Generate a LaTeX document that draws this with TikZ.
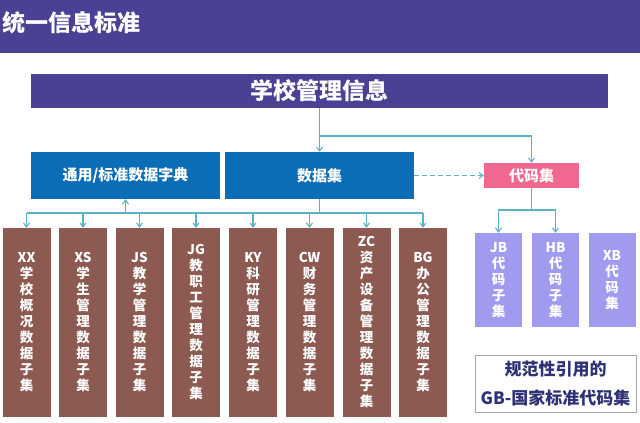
\documentclass[tikz,border=0pt]{standalone}
\usepackage{fontspec}
\setmainfont{Noto Sans CJK SC}
\usetikzlibrary{arrows.meta}

\definecolor{barpurple}{HTML}{4A4094}
\definecolor{dictblue}{HTML}{0B6DB5}
\definecolor{codepink}{HTML}{F0688F}
\definecolor{subbrown}{HTML}{8C5A51}
\definecolor{sublilac}{HTML}{A19BF0}
\definecolor{linkteal}{HTML}{5AB3C3}
\definecolor{notenavy}{HTML}{2E3275}

\begin{document}
\begin{tikzpicture}[x=1pt, y=-1pt, every node/.style={inner sep=0pt, text=white},
	bluebox/.style={fill=dictblue, minimum width=189pt, minimum height=47pt, font=\bfseries\fontsize{15}{18}\selectfont},
	setbox/.style={fill=subbrown, minimum width=48pt, minimum height=189pt, align=center, font=\bfseries\fontsize{13.5}{16}\selectfont},
	codebox/.style={fill=sublilac, minimum width=47pt, minimum height=94pt, align=center, font=\bfseries\fontsize{13.5}{16}\selectfont},
	wire/.style={draw=linkteal, line width=1.1pt},
	link/.style={wire, -{Straight Barb[length=4pt, width=6pt]}}]
	\useasboundingbox (0,0) rectangle (640,423);
	% title bar
	\fill[barpurple] (0,0) rectangle (640,53);
	\node[anchor=west, font=\bfseries\fontsize{23}{26}\selectfont] (title) at (2,23) {统一信息标准};
	% top level
	\node[fill=barpurple, minimum width=577pt, minimum height=34pt, font=\bfseries\fontsize{23}{26}\selectfont] (school) at (319.5,91) {学校管理信息};
	\node[bluebox] (dict) at (125.5,175.5) {通用/标准数据字典};
	\node[bluebox] (dataset) at (319.5,175.5) {数据集};
	\node[fill=codepink, minimum width=95pt, minimum height=25pt, font=\bfseries\fontsize{15}{18}\selectfont] (codes) at (531.5,175.5) {代码集};
	% data subsets
	\node[setbox] (xx) at (26.5,322.5) {XX\\学\\校\\概\\况\\数\\据\\子\\集};
	\node[setbox] (xs) at (83,322.5) {XS\\学\\生\\管\\理\\数\\据\\子\\集};
	\node[setbox] (js) at (139.5,322.5) {JS\\教\\学\\管\\理\\数\\据\\子\\集};
	\node[setbox] (jg) at (196,322.5) {JG\\教\\职\\工\\管\\理\\数\\据\\子\\集};
	\node[setbox] (ky) at (253,322.5) {KY\\科\\研\\管\\理\\数\\据\\子\\集};
	\node[setbox] (cw) at (309.5,322.5) {CW\\财\\务\\管\\理\\数\\据\\子\\集};
	\node[setbox] (zc) at (366.5,322.5) {ZC\\资\\产\\设\\备\\管\\理\\数\\据\\子\\集};
	\node[setbox] (bg) at (423,322.5) {BG\\办\\公\\管\\理\\数\\据\\子\\集};
	% code subsets
	\node[codebox] (jb) at (498.5,280) {JB\\代\\码\\子\\集};
	\node[codebox] (hb) at (555.5,280) {HB\\代\\码\\子\\集};
	\node[codebox] (xb) at (612,280) {XB\\代\\码\\集};
	% note
	\node[draw=gray!70, line width=0.8pt, fill=white, minimum width=161pt, minimum height=57pt, align=center, text=notenavy, font=\bfseries\fontsize{17}{29}\selectfont] (note) at (555.5,383.5) {规范性引用的\\GB-国家标准代码集};
	% connectors
	\coordinate (split) at (319.5,136);
	\coordinate (bus) at (319.5,213);
	\coordinate (codesplit) at (531.5,210);
	\draw[link] (school.south) -- (dataset.north);
	\draw[link] (split) -| (codes.north);
	\draw[link, dashed, dash pattern=on 5pt off 3pt] (dataset.east) -- (codes.west);
	\draw[wire] (dataset.south) -- (bus);
	\draw[link] (dict.south |- bus) -- (dict.south);
	\draw[wire] (xx.north |- bus) -- (bg.north |- bus);
	\foreach \n in {xx,xs,js,jg,ky,cw,zc,bg}
		\draw[link] (\n.north |- bus) -- (\n.north);
	\draw[wire] (codes.south) -- (codesplit);
	\draw[link] (codesplit) -| (jb.north);
	\draw[link] (codesplit) -| (hb.north);
\end{tikzpicture}
\end{document}
